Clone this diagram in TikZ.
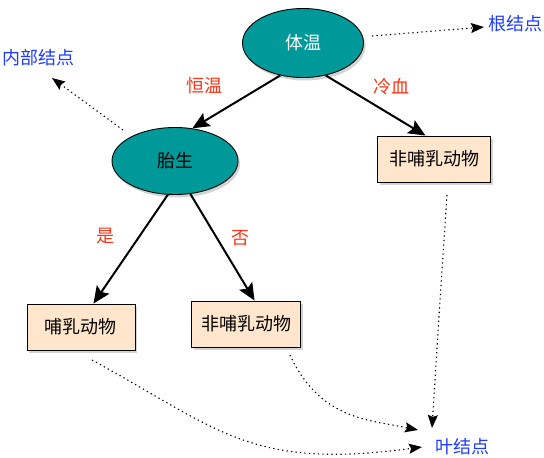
\documentclass[tikz,border=0pt]{standalone}
\usepackage{fontspec}
\setmainfont{Noto Sans CJK SC}
\usetikzlibrary{shapes.geometric,shadows,arrows.meta}
\definecolor{teal1}{RGB}{0,153,153}
\definecolor{boxfill}{RGB}{255,230,204}
\definecolor{lblue}{RGB}{30,60,255}
\definecolor{lred}{RGB}{255,50,20}
\begin{document}
\begin{tikzpicture}[x=1pt,y=-1pt,
  inner/.style={ellipse,draw=black,line width=0.9pt,fill=teal1,minimum width=121pt,minimum height=69pt,inner sep=0pt,font=\fontsize{18}{21}\selectfont,drop shadow={shadow xshift=2pt,shadow yshift=-3pt,opacity=0.35}},
  leaf/.style={rectangle,draw=black,line width=0.9pt,fill=boxfill,minimum height=46pt,inner sep=0pt,font=\fontsize{18}{21}\selectfont,drop shadow={shadow xshift=2pt,shadow yshift=-3pt,opacity=0.35}},
  note/.style={text=lblue,font=\fontsize{18}{21}\selectfont,inner sep=0pt},
  elabel/.style={text=lred,font=\fontsize{18}{21}\selectfont,inner sep=0pt},
  tree/.style={line width=2pt,-{Stealth[length=17pt,width=15pt,inset=3pt]}},
  hint/.style={line width=1.1pt,dash pattern=on 1.3pt off 3.2pt,-{Stealth[length=13pt,width=10pt,inset=2pt]}}]
\useasboundingbox (0,0) rectangle (544,458);
\node[inner,text=white] (root) at (303,43) {体温};
\node[inner,minimum width=126pt,minimum height=67pt] (birth) at (175,161) {胎生};
\node[leaf,minimum width=113pt] (cold) at (434,159) {非哺乳动物};
\node[leaf,minimum width=108pt] (mam) at (81,327) {哺乳动物};
\node[leaf,minimum width=109pt] (non) at (246,324) {非哺乳动物};
\node[note] (rootlbl) at (515,24) {根结点};
\node[note] (innerlbl) at (38,58) {内部结点};
\node[note] (leaflbl) at (462,447) {叶结点};
\node[elabel] (l1) at (204,86) {恒温};
\node[elabel] (l2) at (391,87) {冷血};
\node[elabel] (l3) at (105,236) {是};
\node[elabel] (l4) at (240,238) {否};
\coordinate (a1) at (372,36);
\coordinate (a2) at (123,130);
\coordinate (a3) at (447,195);
\coordinate (a4) at (290,355);
\coordinate (a5) at (92,360);
\coordinate (t1) at (484,27);
\coordinate (t2) at (52,78);
\coordinate (t3) at (432,428);
\coordinate (t4) at (418,430);
\coordinate (t5) at (422,447);
\draw[tree] (root.235) -- (birth.62);
\draw[tree] (root.305) -- (cold.110);
\draw[tree] (birth.258) -- (mam.62);
\draw[tree] (birth.295) -- (non.70);
\draw[hint] (a1) -- (t1);
\draw[hint] (a2) -- (t2);
\draw[hint] (a3) .. controls (440,300) .. (t3);
\draw[hint] (a4) .. controls (320,420) and (370,420) .. (t4);
\draw[hint] (a5) .. controls (220,430) and (250,470) .. (t5);
\end{tikzpicture}
\end{document}
